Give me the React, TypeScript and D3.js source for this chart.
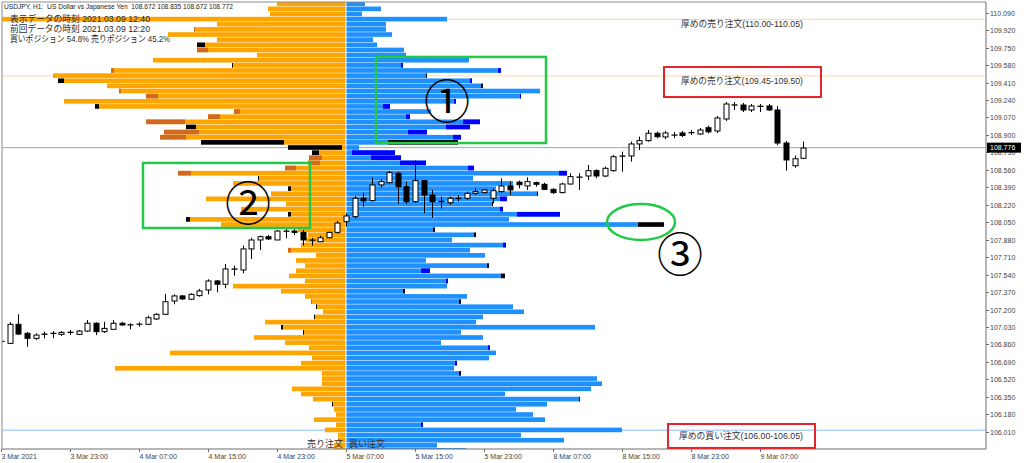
import React from "react";
import * as d3 from "d3";

// ---- order book (per 0.05 yen level, top level first) ----
const topLevel = 110.15;
const levelStep = 0.05;

const sellOrders = [
  69, 78, 76, 380, 129, 152, 178, 129, 141, 149, 89, 193, 113, 235, 293, 282, 239, 227, 200, 282,
  247, 112, 138, 200, 150, 182, 186, 62, 4, 27, 37, 38, 61, 168, 87, 113, 55, 75, 140, 60,
  105, 55, 156, 125, 48, 38, 40, 45, 58, 30, 50, 41, 50, 57, 41, 113, 65, 41, 35, 29,
  23, 31, 81, 63, 42, 92, 61, 37, 176, 34, 45, 231, 24, 24, 24, 54, 45, 33, 13, 12,
  10, 32, 10, 21, 8, 8, 12, 12,
];
const sellChange = [
  0, 0, 0, 0, 0, 1, 0, 0, -8, 11, 0, 0, -1, 3, 0, -6, 0, 2, 12, 0,
  -4, 6, 12, 39, -10, 35, 26, -83, -54, -7, 13, 12, 11, 13, -1, 0, -3, 0, 0, 0,
  0, -3, -4, 0, 0, 0, 0, 0, 3, 0, 0, 0, 0, 0, 0, 0, 0, 0, 1, -1,
  0, -1, 0, -2, -1, 0, 0, 0, 0, 0, 0, 0, 0, 0, 0, 0, 0, 0, -1, 0,
  0, 0, 0, 0, 0, 0, 0, 0,
];
const buyOrders = [
  19, 35, 16, 101, 40, 40, 46, 27, 31, 58, 60, 123, 57, 155, 80, 126, 135, 194, 175, 110,
  44, 85, 64, 134, 124, 81, 115, 42, 13, 49, 55, 80, 128, 221, 127, 167, 150, 191, 161, 146,
  157, 214, 163, 292, 87, 128, 106, 160, 124, 139, 80, 141, 84, 155, 102, 101, 57, 121, 113, 167,
  178, 137, 130, 249, 115, 137, 95, 144, 150, 143, 111, 108, 113, 251, 256, 245, 159, 234, 201, 170,
  187, 199, 77, 276, 175, 218, 91, 120,
];
const buyChange = [
  0, 0, 0, 0, 0, 0, 0, 0, 0, 0, 0, 0, 2, 3, -1, 2, -2, 0, 1, 2,
  7, 0, 4, 17, 24, 19, 8, -70, 0, 43, 30, 26, 6, 8, 0, 0, 0, -1, 7, -1,
  3, 43, 0, -26, -2, -2, 0, 3, 0, 0, 0, -2, 9, -4, 2, 0, -2, 0, -2, 0,
  0, 0, 0, 0, 0, 0, 0, 2, 0, 0, 2, 0, -2, 0, 0, 0, 0, 1, 0, 0,
  0, 0, 2, 0, 0, 0, 0, 0,
];

// ---- USDJPY H1 candles, 3 Mar 15:00 .. 9 Mar 12:00 ----
const opens = [
  106.888, 106.87, 107.056, 106.968, 106.919, 106.958, 106.966, 106.958, 106.976, 106.958,
  106.99, 107.066, 106.984, 107.007, 107.066, 107.051, 107.058, 107.056, 107.108, 107.153,
  107.283, 107.332, 107.3, 107.335, 107.39, 107.478, 107.446, 107.592, 107.585, 107.79,
  107.877, 107.909, 107.877, 107.961, 107.964, 107.951, 107.874, 107.86, 107.899, 107.951,
  108.055, 108.104, 108.283, 108.26, 108.413, 108.435, 108.526, 108.396, 108.25, 108.455,
  108.315, 108.253, 108.24, 108.28, 108.283, 108.331, 108.338, 108.283, 108.348, 108.403,
  108.44, 108.403, 108.435, 108.419, 108.37, 108.338, 108.422, 108.487, 108.5, 108.552,
  108.5, 108.552, 108.692, 108.695, 108.812, 108.844, 108.916, 108.88, 108.897, 108.919,
  108.921, 108.909, 108.97, 108.938, 109.055, 109.19, 109.191, 109.143, 109.177, 109.182,
  109.143, 108.821, 108.6, 108.672,
];
const highs = [
  106.905, 107.076, 107.153, 106.981, 106.968, 106.984, 106.99, 106.99, 107.0, 107.0,
  107.098, 107.076, 107.081, 107.098, 107.081, 107.066, 107.076, 107.14, 107.163, 107.351,
  107.348, 107.342, 107.358, 107.4, 107.494, 107.487, 107.643, 107.627, 107.822, 107.899,
  107.919, 107.925, 107.974, 107.984, 107.984, 107.974, 107.899, 107.919, 107.958, 108.062,
  108.137, 108.306, 108.338, 108.487, 108.468, 108.549, 108.542, 108.445, 108.65, 108.461,
  108.364, 108.299, 108.299, 108.315, 108.348, 108.38, 108.371, 108.38, 108.478, 108.445,
  108.455, 108.487, 108.445, 108.435, 108.38, 108.435, 108.526, 108.526, 108.607, 108.565,
  108.591, 108.705, 108.737, 108.834, 108.883, 108.948, 108.932, 108.938, 108.928, 108.938,
  108.948, 108.967, 108.99, 109.084, 109.22, 109.22, 109.211, 109.201, 109.201, 109.201,
  109.182, 108.84, 108.7, 108.835,
];
const lows = [
  106.872, 106.864, 106.951, 106.838, 106.903, 106.919, 106.922, 106.942, 106.951, 106.951,
  106.981, 106.951, 106.971, 107.0, 107.045, 107.007, 107.033, 107.049, 107.098, 107.146,
  107.251, 107.293, 107.293, 107.325, 107.348, 107.368, 107.407, 107.529, 107.553, 107.692,
  107.779, 107.877, 107.877, 107.893, 107.925, 107.822, 107.822, 107.86, 107.899, 107.938,
  108.007, 108.088, 108.202, 108.25, 108.39, 108.429, 108.227, 108.227, 108.24, 108.137,
  108.094, 108.185, 108.218, 108.25, 108.266, 108.315, 108.331, 108.234, 108.338, 108.315,
  108.38, 108.364, 108.396, 108.364, 108.325, 108.331, 108.416, 108.364, 108.461, 108.478,
  108.49, 108.542, 108.542, 108.64, 108.753, 108.834, 108.867, 108.86, 108.87, 108.88,
  108.899, 108.899, 108.915, 108.919, 109.036, 109.143, 109.123, 109.123, 109.123, 109.133,
  108.801, 108.552, 108.58, 108.672,
];
const closes = [
  106.89, 107.056, 106.961, 106.919, 106.951, 106.961, 106.969, 106.977, 106.979, 106.99,
  107.066, 106.984, 107.016, 107.066, 107.049, 107.049, 107.056, 107.12, 107.153, 107.276,
  107.332, 107.303, 107.348, 107.381, 107.478, 107.446, 107.595, 107.595, 107.79, 107.877,
  107.909, 107.887, 107.964, 107.964, 107.951, 107.877, 107.877, 107.899, 107.951, 108.042,
  108.111, 108.283, 108.257, 108.413, 108.445, 108.533, 108.396, 108.25, 108.455, 108.315,
  108.25, 108.25, 108.283, 108.283, 108.331, 108.348, 108.364, 108.357, 108.403, 108.364,
  108.415, 108.445, 108.419, 108.37, 108.338, 108.422, 108.494, 108.49, 108.552, 108.5,
  108.575, 108.688, 108.695, 108.812, 108.844, 108.916, 108.883, 108.919, 108.899, 108.894,
  108.923, 108.948, 108.93, 109.065, 109.201, 109.193, 109.143, 109.182, 109.18, 109.143,
  108.821, 108.656, 108.668, 108.772,
];

// ---- axes ----
const priceTicks = [
  "110.090", "109.920", "109.750", "109.580", "109.410", "109.240", "109.070", "108.900",
  "108.730", "108.560", "108.390", "108.220", "108.050", "107.880", "107.710", "107.540",
  "107.370", "107.200", "107.030", "106.860", "106.690", "106.520", "106.350", "106.180",
  "106.010",
];
const timeTickBars = [0, 8, 16, 24, 32, 40, 48, 56, 64, 72, 80, 88];
const timeTickLabels = [
  "3 Mar 2021", "3 Mar 23:00", "4 Mar 07:00", "4 Mar 15:00", "4 Mar 23:00", "5 Mar 07:00",
  "5 Mar 15:00", "5 Mar 23:00", "8 Mar 07:00", "8 Mar 15:00", "8 Mar 23:00", "9 Mar 07:00",
];

const currentPrice = 108.776;
const thickSell = [
  { lo: 110.0, hi: 110.05 },
  { lo: 109.45, hi: 109.5 },
];
const thickBuy = [{ lo: 106.0, hi: 106.05 }];

const FONT = "'Liberation Sans', 'Noto Sans CJK JP', sans-serif";
const JP = "'Noto Sans CJK JP', 'Liberation Sans', sans-serif";

const ORANGE = "#ffa500";
const ORANGE_UP = "#d2691e";
const BLUE = "#1e90ff";
const BLUE_UP = "#0000ff";
const GREEN = "#22c945";
const RED = "#e5222b";

export default function App() {
  const plot = { left: 2, right: 986, top: 2, bottom: 449 };
  const yPrice = d3.scaleLinear().domain([105.8417, 110.1942]).range([plot.bottom, plot.top]);
  const xTime = d3.scaleLinear().domain([0, 88]).range([1, 760]);
  const xOrder = d3.scaleLinear().domain([0, 100]).range([0, 100]);
  const mid = 346;

  const rows = sellOrders.map((s, k) => {
    const lo = topLevel - levelStep * k;
    const yTop = yPrice(lo + levelStep);
    const yBot = yPrice(lo);
    return { k, yTop, h: yBot - yTop - 0.5, sell: s, sellChg: sellChange[k], buy: buyOrders[k], buyChg: buyChange[k] };
  });

  const bodyW = 5;

  // annotation shapes placed in price / order / time coordinates
  const box1 = { x0: mid + xOrder(30), x1: mid + xOrder(200), y0: yPrice(109.659), y1: yPrice(108.821) };
  const box2 = { x0: mid - xOrder(203), x1: mid - xOrder(36), y0: yPrice(108.627), y1: yPrice(107.994) };
  const ell3 = { cx: mid + xOrder(295), cy: yPrice(108.052) };
  const redTop = { x0: xTime(76.87), x1: xTime(95.07), y0: yPrice(109.561), y1: yPrice(109.269) };
  const redBot = { x0: xTime(77.33), x1: xTime(94.38), y0: yPrice(106.085), y1: yPrice(105.852) };

  return (
    <svg
      width={1024}
      height={463}
      style={{ position: "absolute", left: 0, top: 0, background: "#fff" }}
    >
      <defs>
        <clipPath id="plotArea">
          <rect x={plot.left} y={plot.top} width={plot.right - plot.left} height={plot.bottom - plot.top} />
        </clipPath>
      </defs>
      <rect x={0} y={0} width={1024} height={463} fill="#fff" />

      <g clipPath="url(#plotArea)">
        {/* thick-order level lines */}
        {thickSell.map((r, i) => (
          <line key={"ts" + i} x1={plot.left} x2={plot.right} y1={yPrice((r.lo + r.hi) / 2)} y2={yPrice((r.lo + r.hi) / 2)} stroke="#ffd99a" strokeWidth={1} />
        ))}
        {thickBuy.map((r, i) => (
          <line key={"tb" + i} x1={plot.left} x2={plot.right} y1={yPrice((r.lo + r.hi) / 2)} y2={yPrice((r.lo + r.hi) / 2)} stroke="#86bff8" strokeWidth={1} />
        ))}
        <line x1={plot.left} x2={plot.right} y1={yPrice(currentPrice)} y2={yPrice(currentPrice)} stroke="#a6a6a6" strokeWidth={1} />

        {/* sell orders (left) */}
        {rows.map((r) => {
          const len = xOrder(r.sell);
          const c = r.sellChg;
          return (
            <g key={"s" + r.k}>
              <rect x={mid - len} y={r.yTop} width={len - 0.5} height={r.h} fill={ORANGE} />
              {c > 0 && <rect x={mid - len} y={r.yTop} width={xOrder(c)} height={r.h} fill={ORANGE_UP} />}
              {c < 0 && <rect x={mid - len - xOrder(-c)} y={r.yTop} width={xOrder(-c)} height={r.h} fill="#000" />}
            </g>
          );
        })}

        {/* buy orders (right) */}
        {rows.map((r) => {
          const len = xOrder(r.buy);
          const c = r.buyChg;
          return (
            <g key={"b" + r.k}>
              <rect x={mid + 0.5} y={r.yTop} width={len - 0.5} height={r.h} fill={BLUE} />
              {c > 0 && <rect x={mid + len - xOrder(c)} y={r.yTop} width={xOrder(c)} height={r.h} fill={BLUE_UP} />}
              {c < 0 && <rect x={mid + len} y={r.yTop} width={xOrder(-c)} height={r.h} fill="#000" />}
            </g>
          );
        })}

        {/* candles */}
        {opens.map((o, i) => {
          const c = closes[i];
          const cx = Math.round(xTime(i)) + 0.5;
          const top = yPrice(Math.max(o, c));
          const bot = yPrice(Math.min(o, c));
          const bull = c >= o;
          const h = Math.max(0.01, bot - top);
          return (
            <g key={"c" + i}>
              <line x1={cx} x2={cx} y1={yPrice(highs[i])} y2={yPrice(lows[i])} stroke="#000" strokeWidth={1} />
              <rect
                x={cx - bodyW / 2}
                y={top}
                width={bodyW}
                height={h}
                fill={bull ? "#fff" : "#000"}
                stroke="#000"
                strokeWidth={1}
              />
            </g>
          );
        })}
      </g>

      {/* frame */}
      <line x1={plot.left} x2={plot.right} y1={plot.top} y2={plot.top} stroke="#8c8c8c" />
      <line x1={plot.left} x2={plot.left} y1={plot.top} y2={plot.bottom} stroke="#8c8c8c" />
      <line x1={plot.right} x2={plot.right} y1={plot.top} y2={plot.bottom} stroke="#6e6e6e" />
      <line x1={plot.left} x2={plot.right} y1={plot.bottom} y2={plot.bottom} stroke="#6e6e6e" />

      {/* price axis */}
      {priceTicks.map((t) => {
        const yy = Math.round(yPrice(+t)) + 0.5;
        return (
          <g key={"pt" + t}>
            <line x1={plot.right} x2={plot.right + 3} y1={yy} y2={yy} stroke="#6e6e6e" />
            <text x={plot.right + 4} y={yy + 2.5} fontSize={7} fontFamily={FONT} fill="#444">
              {t}
            </text>
          </g>
        );
      })}
      <rect x={plot.right + 1} y={yPrice(currentPrice) - 5} width={34} height={10} fill="#000" />
      <text x={plot.right + 4} y={yPrice(currentPrice) + 2.5} fontSize={7} fontFamily={FONT} fill="#fff">
        {currentPrice.toFixed(3)}
      </text>

      {/* time axis */}
      {timeTickBars.map((b, i) => {
        const xx = Math.round(xTime(b)) + 0.5;
        return (
          <g key={"tt" + b}>
            <line x1={xx} x2={xx} y1={plot.bottom} y2={plot.bottom + 3} stroke="#6e6e6e" />
            <text x={xx} y={459} fontSize={7} fontFamily={FONT} fill="#444">
              {timeTickLabels[i]}
            </text>
          </g>
        );
      })}

      {/* header */}
      <text x={4} y={9} fontSize={6.6} fontFamily={FONT} fill="#222" style={{ whiteSpace: "pre" }} textLength={229} lengthAdjust="spacingAndGlyphs">
        {"USDJPY, H1:  US Dollar vs Japanese Yen  108.672 108.835 108.672 108.772"}
      </text>
      <text x={10} y={21.5} fontSize={9} fontFamily={FONT} fill="#2a2a2a" textLength={140} lengthAdjust="spacingAndGlyphs">
        表示データの時刻 2021.03.09 12:40
      </text>
      <text x={10} y={31.5} fontSize={9} fontFamily={FONT} fill="#2a2a2a" textLength={140} lengthAdjust="spacingAndGlyphs">
        前回データの時刻 2021.03.09 12:20
      </text>
      <text x={10} y={42} fontSize={9} fontFamily={FONT} fill="#2a2a2a" textLength={160} lengthAdjust="spacingAndGlyphs">
        買いポジション 54.8% 売りポジション 45.2%
      </text>

      {/* side captions */}
      <text x={343} y={446.5} fontSize={9} fontFamily={JP} fill="#333" textAnchor="end">
        売り注文
      </text>
      <text x={349} y={446.5} fontSize={9} fontFamily={JP} fill="#333">
        買い注文
      </text>

      {/* thick order notes */}
      <text x={681} y={27} fontSize={9} fontFamily={FONT} fill="#333" textLength={122} lengthAdjust="spacingAndGlyphs">
        厚めの売り注文(110.00-110.05)
      </text>
      <rect x={redTop.x0} y={redTop.y0} width={redTop.x1 - redTop.x0} height={redTop.y1 - redTop.y0} fill="none" stroke={RED} strokeWidth={2} />
      <text x={681} y={83.5} fontSize={9} fontFamily={FONT} fill="#333" textLength={122} lengthAdjust="spacingAndGlyphs">
        厚めの売り注文(109.45-109.50)
      </text>
      <rect x={redBot.x0} y={redBot.y0} width={redBot.x1 - redBot.x0} height={redBot.y1 - redBot.y0} fill="none" stroke={RED} strokeWidth={2} />
      <text x={679} y={439} fontSize={9} fontFamily={FONT} fill="#333" textLength={124} lengthAdjust="spacingAndGlyphs">
        厚めの買い注文(106.00-106.05)
      </text>

      {/* highlighted regions */}
      <rect x={box1.x0} y={box1.y0} width={box1.x1 - box1.x0} height={box1.y1 - box1.y0} fill="none" stroke={GREEN} strokeWidth={2.5} />
      <rect x={box2.x0} y={box2.y0} width={box2.x1 - box2.x0} height={box2.y1 - box2.y0} fill="none" stroke={GREEN} strokeWidth={2.5} />
      <ellipse cx={ell3.cx} cy={ell3.cy} rx={34} ry={18} fill="none" stroke={GREEN} strokeWidth={2.5} />

      <text x={mid + xOrder(101)} y={yPrice(109.264)} fontSize={46} fontFamily={JP} fill="#000" textAnchor="middle" dominantBaseline="central">
        ①
      </text>
      <text x={mid - xOrder(98)} y={yPrice(108.266)} fontSize={46} fontFamily={JP} fill="#000" textAnchor="middle" dominantBaseline="central">
        ②
      </text>
      <text x={mid + xOrder(334)} y={yPrice(107.77)} fontSize={46} fontFamily={JP} fill="#000" textAnchor="middle" dominantBaseline="central">
        ③
      </text>
    </svg>
  );
}
